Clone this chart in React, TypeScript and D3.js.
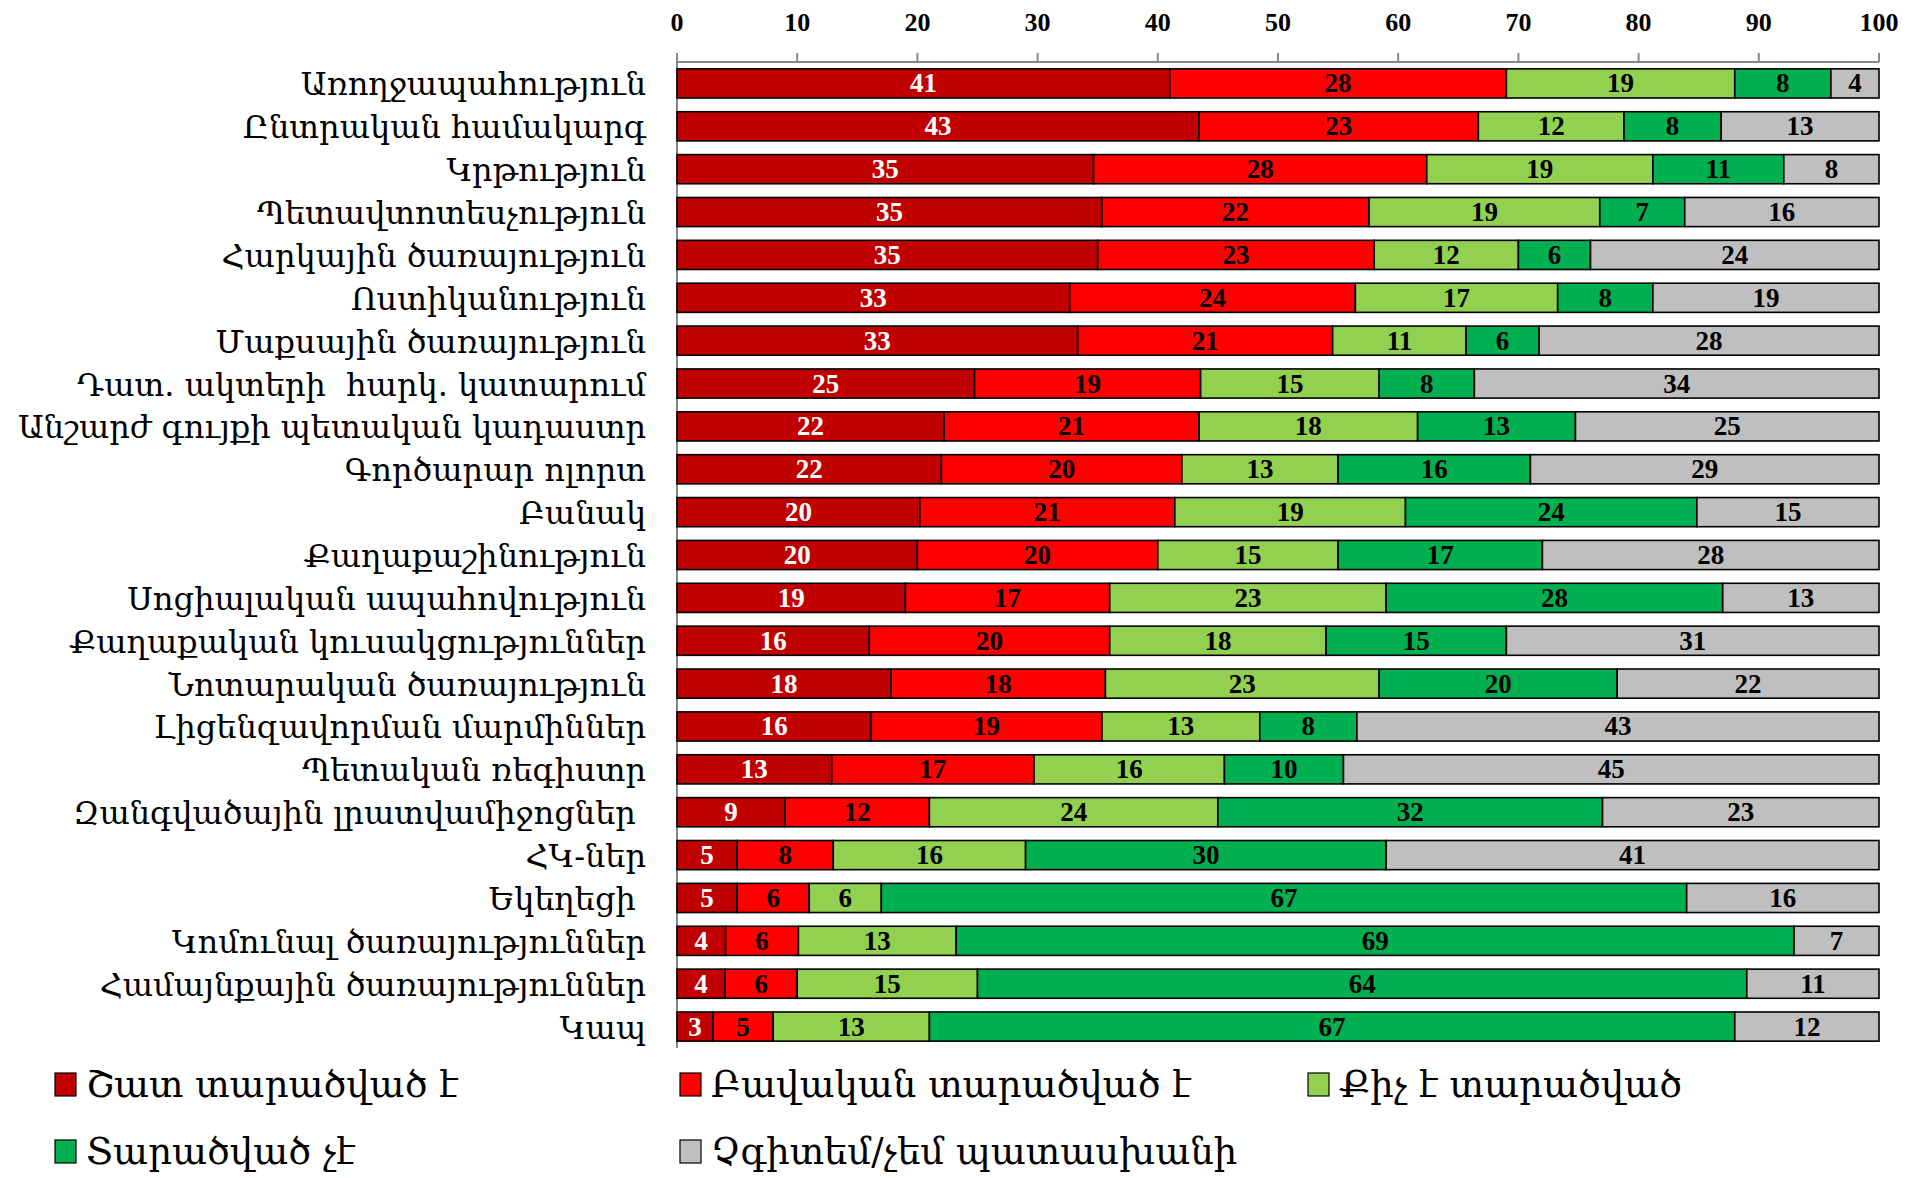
import React, { useEffect, useRef } from "react";
import * as d3 from "d3";

const categories = [
  "Առողջապահություն",
  "Ընտրական համակարգ",
  "Կրթություն",
  "Պետավտոտեսչություն",
  "Հարկային ծառայություն",
  "Ոստիկանություն",
  "Մաքսային ծառայություն",
  "Դատ. ակտերի  հարկ. կատարում",
  "Անշարժ գույքի պետական կադաստր",
  "Գործարար ոլորտ",
  "Բանակ",
  "Քաղաքաշինություն",
  "Սոցիալական ապահովություն",
  "Քաղաքական կուսակցություններ",
  "Նոտարական ծառայություն",
  "Լիցենզավորման մարմիններ",
  "Պետական ռեգիստր",
  "Զանգվածային լրատվամիջոցներ ",
  "ՀԿ-ներ",
  "Եկեղեցի ",
  "Կոմունալ ծառայություններ",
  "Համայնքային ծառայություններ",
  "Կապ",
];

const seriesNames = [
  "Շատ տարածված է",
  "Բավական տարածված է",
  "Քիչ է տարածված",
  "Տարածված չէ",
  "Չգիտեմ/չեմ պատասխանի",
];

const veryWidespread = [41, 43, 35, 35, 35, 33, 33, 25, 22, 22, 20, 20, 19, 16, 18, 16, 13, 9, 5, 5, 4, 4, 3];
const fairlyWidespread = [28, 23, 28, 22, 23, 24, 21, 19, 21, 20, 21, 20, 17, 20, 18, 19, 17, 12, 8, 6, 6, 6, 5];
const littleWidespread = [19, 12, 19, 19, 12, 17, 11, 15, 18, 13, 19, 15, 23, 18, 23, 13, 16, 24, 16, 6, 13, 15, 13];
const notWidespread = [8, 8, 11, 7, 6, 8, 6, 8, 13, 16, 24, 17, 28, 15, 20, 8, 10, 32, 30, 67, 69, 64, 67];
const dontKnow = [4, 13, 8, 16, 24, 19, 28, 34, 25, 29, 15, 28, 13, 31, 22, 43, 45, 23, 41, 16, 7, 11, 12];

const tickValues = [0, 10, 20, 30, 40, 50, 60, 70, 80, 90, 100];

const colors = ["#C00000", "#FF0000", "#92D050", "#00B050", "#BFBFBF"];
const labelColors = ["#FFFFFF", "#000000", "#000000", "#000000", "#000000"];

const W = 1905;
const H = 1170;
const armFont = "'DejaVu Serif', 'Noto Serif', serif";
const numFont = "'Liberation Serif', 'Times New Roman', serif";

export default function App() {
  const ref = useRef<SVGSVGElement | null>(null);

  useEffect(() => {
    const svg = d3.select(ref.current);
    svg.selectAll("*").remove();

    const keys = ["s0", "s1", "s2", "s3", "s4"];
    const allSeries = [veryWidespread, fairlyWidespread, littleWidespread, notWidespread, dontKnow];
    const rows = categories.map((c, i) => {
      const r: any = { cat: c };
      keys.forEach((k, j) => (r[k] = allSeries[j][i]));
      return r;
    });
    const stacked = d3.stack().keys(keys).offset(d3.stackOffsetExpand)(rows);

    const x = d3.scaleLinear().domain([0, 100]).range([669, 1871]);
    const y = d3.scaleBand().domain(categories).range([54, 1040]).paddingInner(0.32).paddingOuter(0.16);

    // axis
    const axisG = svg.append("g");
    axisG.append("line").attr("x1", x(0)).attr("x2", x(100)).attr("y1", 54).attr("y2", 54)
      .attr("stroke", "#868686").attr("stroke-width", 2);
    axisG.append("line").attr("x1", x(0)).attr("x2", x(0)).attr("y1", 45).attr("y2", 1040)
      .attr("stroke", "#868686").attr("stroke-width", 2);
    axisG.selectAll("line.tick").data(tickValues).enter().append("line")
      .attr("x1", (d) => x(d)).attr("x2", (d) => x(d)).attr("y1", 45).attr("y2", 54)
      .attr("stroke", "#868686").attr("stroke-width", 2);
    axisG.selectAll("text.tick").data(tickValues).enter().append("text")
      .attr("x", (d) => x(d)).attr("y", 23).attr("text-anchor", "middle")
      .attr("font-family", numFont).attr("font-weight", "bold").attr("font-size", 26)
      .attr("fill", "#000").text((d) => String(d));

    // bars
    stacked.forEach((layer, j) => {
      const g = svg.append("g");
      layer.forEach((seg: any) => {
        const cat = seg.data.cat;
        const x0 = x(seg[0] * 100);
        const x1 = x(seg[1] * 100);
        g.append("rect").attr("x", x0).attr("y", y(cat)!).attr("width", x1 - x0).attr("height", y.bandwidth())
          .attr("fill", colors[j]).attr("stroke", "#000").attr("stroke-width", 1.6);
      });
    });
    stacked.forEach((layer, j) => {
      const g = svg.append("g");
      layer.forEach((seg: any) => {
        const cat = seg.data.cat;
        const x0 = x(seg[0] * 100);
        const x1 = x(seg[1] * 100);
        g.append("text").attr("x", (x0 + x1) / 2).attr("y", y(cat)! + y.bandwidth() / 2 + 9)
          .attr("text-anchor", "middle").attr("font-family", numFont).attr("font-weight", "bold")
          .attr("font-size", 27).attr("fill", labelColors[j]).text(String(seg.data[keys[j]]));
      });
    });

    // category labels
    svg.append("g").selectAll("text").data(categories).enter().append("text")
      .attr("x", 638).attr("y", (d) => y(d)! + y.bandwidth() / 2 + 12)
      .attr("text-anchor", "end").attr("font-family", armFont).attr("font-size", 32)
      .style("white-space", "pre").attr("fill", "#000").text((d) => d);

    // legend
    const legendPos = [
      { sx: 47, ty: 1076 }, { sx: 672, ty: 1076 }, { sx: 1300, ty: 1076 },
      { sx: 47, ty: 1143 }, { sx: 672, ty: 1143 },
    ];
    const lg = svg.append("g");
    seriesNames.forEach((n, j) => {
      const p = legendPos[j];
      lg.append("rect").attr("x", p.sx).attr("y", p.ty - 11).attr("width", 21).attr("height", 23)
        .attr("fill", colors[j]).attr("stroke", "#000").attr("stroke-width", 1.2);
      lg.append("text").attr("x", p.sx + 31).attr("y", p.ty + 13).attr("font-family", armFont)
        .attr("font-size", 37).attr("fill", "#000").text(n);
    });
  }, []);

  return <svg ref={ref} width={W} height={H} style={{ display: "block" }} />;
}
